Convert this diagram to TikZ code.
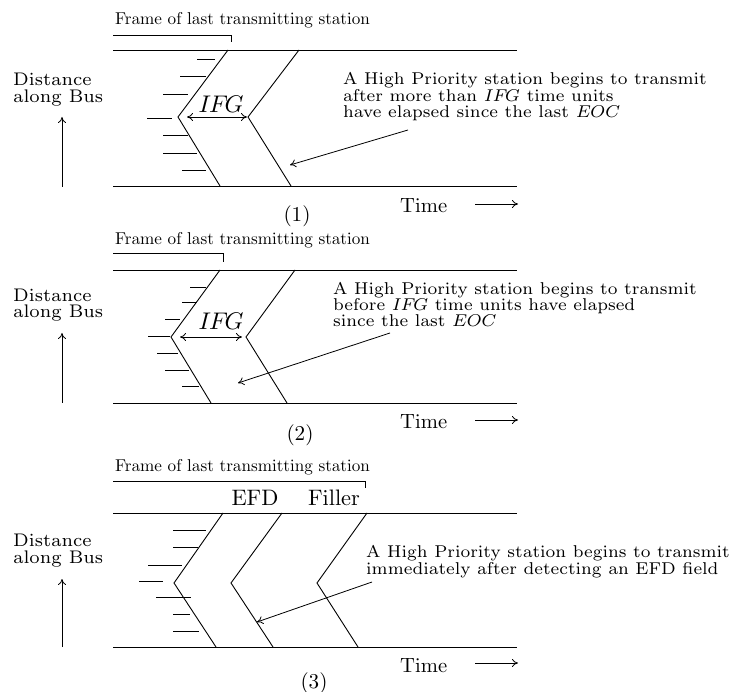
\documentclass[tikz,border=0pt]{standalone}
\usepackage{graphicx}
\usetikzlibrary{arrows.meta}
\newlength\fitlen
\newcommand\fitfont[4]{%
  \font\fittmp=#2 at 10pt\relax
  \settowidth\fitlen{\fittmp #3}%
  \pgfmathsetmacro\fitsize{10*#4/\fitlen}%
  \global\font#1=#2 at \fitsize pt\relax}
\fitfont{\annfont}{cmr7}{A High Priority station begins to transmit}{364}
\font\annit=cmmi7 at \fitsize pt\relax
\fitfont{\framefont}{cmr10}{Frame of last transmitting station}{255}
\fitfont{\distfont}{cmr7}{along Bus}{90}
\fitfont{\timefont}{cmr10}{Time}{47}
\fitfont{\labfont}{cmr10}{Filler}{52}
\fitfont{\numfont}{cmr10}{(1)}{27}
\fitfont{\ifgfont}{cmmi10}{IFG}{45}
\tikzset{
  bus/.style={line width=0.9pt},
  brk/.style={line width=0.8pt},
  chev/.style={line width=0.9pt, line join=miter},
  stn/.style={line width=0.9pt},
  ann/.style={-{To[length=6pt,width=8pt]}, line width=0.8pt},
  gaparrow/.style={{To[length=6pt,width=8pt]}-{To[length=6pt,width=8pt]}, line width=0.8pt},
  txt/.style={inner sep=0pt, anchor=base west},
  ctxt/.style={inner sep=0pt, anchor=base},
}
\begin{document}
\begin{tikzpicture}[x=1pt,y=-1pt]
\useasboundingbox (0,0) rectangle (734,692);
% ================= Panel 1 =================
\coordinate (t1l) at (113,50); \coordinate (t1r) at (517,50);
\coordinate (d1l) at (113,186); \coordinate (d1r) at (517,186);
\draw[bus] (t1l) -- (t1r);
\draw[bus] (d1l) -- (d1r);
\node[txt, font=\framefont] (fr1) at (115,25) {Frame of last transmitting station};
\coordinate (k1a) at (113,35); \coordinate (k1b) at (231,35); \coordinate (k1c) at (231,42);
\draw[brk] (k1a) -- (k1b) -- (k1c);
\coordinate (v1a) at (178,117); \coordinate (v1b) at (248,117);
\draw[chev] (228,50) -- (v1a) -- (220,186);
\draw[chev] (299,50) -- (v1b) -- (291,186);
\foreach \y/\a/\b in {59/197/215, 76/180/206, 94/163/188, 118/147/172, 135/163/188, 153/163/197, 170/182/206}
  \draw[stn] (\a,\y) -- (\b,\y);
\draw[gaparrow, shorten <=9pt, shorten >=1pt] (v1a) -- (v1b);
\node[inner sep=0pt, font=\ifgfont] (ifg1) at (221,104.5) {IFG};
\node[txt, font=\annfont] (a1l1) at (343,85) {A High Priority station begins to transmit};
\node[txt, font=\annfont] (a1l2) at (343,101.5) {after more than {\annit IFG} time units};
\node[txt, font=\annfont] (a1l3) at (343,118) {have elapsed since the last {\annit EOC}};
\coordinate (p1s) at (408,130); \coordinate (p1e) at (290,165);
\draw[ann] (p1s) -- (p1e);
\node[txt, font=\distfont] (ds1a) at (13,86) {Distance};
\node[txt, font=\distfont] (ds1b) at (13,102.5) {along Bus};
\coordinate (y1s) at (62,187); \coordinate (y1e) at (62,117);
\draw[ann] (y1s) -- (y1e);
\node[txt, font=\timefont] (tm1) at (400,213) {Time};
\coordinate (x1s) at (475,204); \coordinate (x1e) at (518,204);
\draw[ann] (x1s) -- (x1e);
\node[inner sep=0pt, font=\numfont] (n1) at (297,216) {(1)};
% ================= Panel 2 =================
\coordinate (t2l) at (113,270); \coordinate (t2r) at (517,270);
\coordinate (d2l) at (113,403); \coordinate (d2r) at (517,403);
\draw[bus] (t2l) -- (t2r);
\draw[bus] (d2l) -- (d2r);
\node[txt, font=\framefont] (fr2) at (115,245) {Frame of last transmitting station};
\coordinate (k2a) at (113,253); \coordinate (k2b) at (223,253); \coordinate (k2c) at (223,262);
\draw[brk] (k2a) -- (k2b) -- (k2c);
\coordinate (v2a) at (171,337); \coordinate (v2b) at (246,337);
\draw[chev] (220,270) -- (v2a) -- (211,403);
\draw[chev] (295,270) -- (v2b) -- (287,403);
\foreach \y/\a/\b in {287/190/206, 302/182/197, 319/165/180, 336/148/170, 353/157/178, 370/165/189, 386/182/199}
  \draw[stn] (\a,\y) -- (\b,\y);
\draw[gaparrow, shorten <=9pt, shorten >=4pt] (v2a) -- (v2b);
\node[inner sep=0pt, font=\ifgfont] (ifg2) at (221,321.5) {IFG};
\node[txt, font=\annfont] (a2l1) at (333,295) {A High Priority station begins to transmit};
\node[txt, font=\annfont] (a2l2) at (333,311) {before {\annit IFG} time units have elapsed};
\node[txt, font=\annfont] (a2l3) at (333,327) {since the last {\annit EOC}};
\coordinate (p2s) at (390,333); \coordinate (p2e) at (238,383);
\draw[ann] (p2s) -- (p2e);
\node[txt, font=\distfont] (ds2a) at (13,301.5) {Distance};
\node[txt, font=\distfont] (ds2b) at (13,318) {along Bus};
\coordinate (y2s) at (62,403); \coordinate (y2e) at (62,333);
\draw[ann] (y2s) -- (y2e);
\node[txt, font=\timefont] (tm2) at (400,429) {Time};
\coordinate (x2s) at (475,420); \coordinate (x2e) at (518,420);
\draw[ann] (x2s) -- (x2e);
\node[inner sep=0pt, font=\numfont] (n2) at (300,435) {(2)};
% ================= Panel 3 =================
\coordinate (t3l) at (113,513); \coordinate (t3r) at (517,513);
\coordinate (d3l) at (113,647); \coordinate (d3r) at (517,647);
\draw[bus] (t3l) -- (t3r);
\draw[bus] (d3l) -- (d3r);
\node[txt, font=\framefont] (fr3) at (115,472) {Frame of last transmitting station};
\coordinate (k3a) at (113,481); \coordinate (k3b) at (365,481); \coordinate (k3c) at (365,488);
\draw[brk] (k3a) -- (k3b) -- (k3c);
\node[ctxt, font=\labfont] (efd) at (255,506) {EFD};
\node[ctxt, font=\labfont] (fil) at (334,506) {Filler};
\coordinate (v3a) at (174,583); \coordinate (v3b) at (231,583); \coordinate (v3c) at (317,583);
\draw[chev] (223,513) -- (v3a) -- (216,647);
\draw[chev] (282,513) -- (v3b) -- (273,647);
\draw[chev] (367,513) -- (v3c) -- (358,647);
\foreach \y/\a/\b in {530/173/206, 547/173/198, 565/148/182, 581/139/163, 597/156/191, 614/173/190, 631/173/199}
  \draw[stn] (\a,\y) -- (\b,\y);
\node[txt, font=\annfont] (a3l1) at (366,557) {A High Priority station begins to transmit};
\node[txt, font=\annfont] (a3l2) at (366,574) {immediately after detecting an EFD field};
\coordinate (p3s) at (372,582); \coordinate (p3e) at (257,622);
\draw[ann] (p3s) -- (p3e);
\node[txt, font=\distfont] (ds3a) at (13,546.5) {Distance};
\node[txt, font=\distfont] (ds3b) at (13,563) {along Bus};
\coordinate (y3s) at (62,647); \coordinate (y3e) at (62,579);
\draw[ann] (y3s) -- (y3e);
\node[txt, font=\timefont] (tm3) at (400,672) {Time};
\coordinate (x3s) at (475,663); \coordinate (x3e) at (518,663);
\draw[ann] (x3s) -- (x3e);
\node[inner sep=0pt, font=\numfont] (n3) at (314,683) {(3)};
\end{tikzpicture}
\end{document}
